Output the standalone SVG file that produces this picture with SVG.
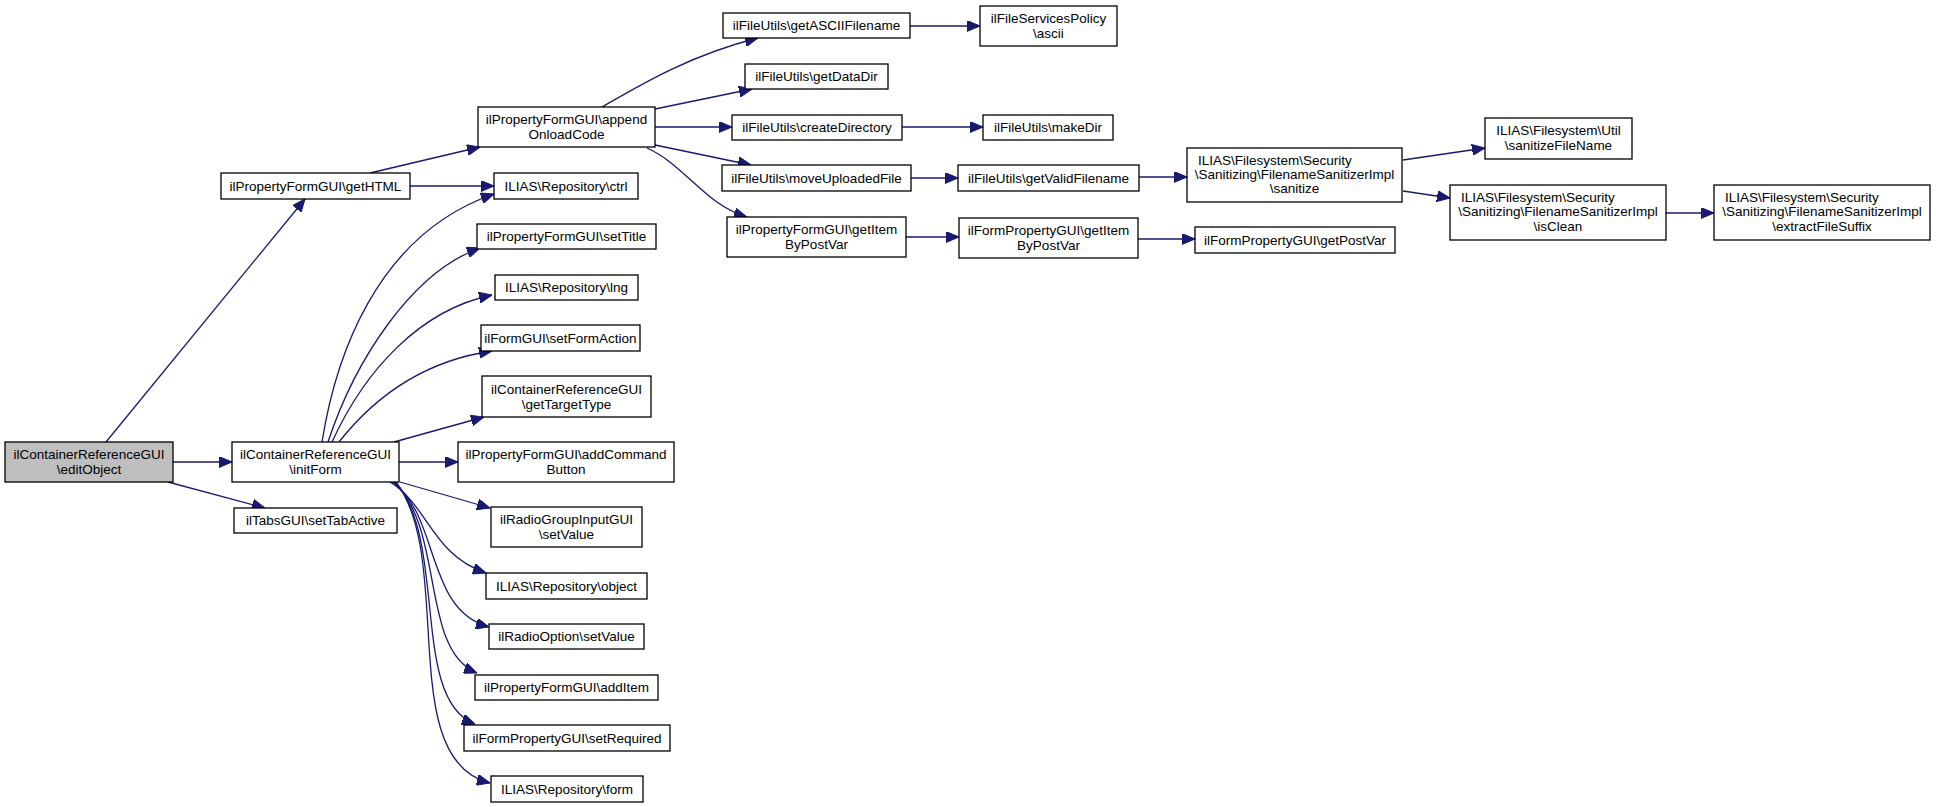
<svg xmlns="http://www.w3.org/2000/svg" width="1936" height="807" viewBox="0 0 1936 807">
<defs>
<marker id="ah" viewBox="0 0 13 11" refX="13" refY="5.5" markerWidth="13" markerHeight="11" markerUnits="userSpaceOnUse" orient="auto">
<path d="M0,0 L13,5.5 L0,11 z" fill="#191970" stroke="#191970" stroke-width="1"/>
</marker>
<style>
.n rect{fill:#fff;stroke:#000;stroke-width:1.3}
.n.cur rect{fill:#bfbfbf}
.n text{font-family:"Liberation Sans",Arial,sans-serif;font-size:13.5px;fill:#000;text-anchor:middle}
.n text.l{text-anchor:start}
#edges path{fill:none;stroke:#191970;stroke-width:1.3;marker-end:url(#ah)}
</style>
</defs>
<rect width="1936" height="807" fill="#fff"/>
<g id="edges">
<path d="M106,442 L305,199"/>
<path d="M173,462 L232,462"/>
<path d="M168,482 L265,508"/>
<path d="M370,173 L480,147"/>
<path d="M410,186 L494,186"/>
<path d="M322,442 C335,360 375,235 494,194"/>
<path d="M328,442 C355,360 412,272 480,248"/>
<path d="M332,442 C365,370 420,310 492,295"/>
<path d="M339,442 C380,390 430,360 492,351"/>
<path d="M394,442 L484,417"/>
<path d="M399,462 L458,462"/>
<path d="M400,482 L490,508"/>
<path d="M390,482 C428,505 432,555 486,573"/>
<path d="M392,482 C440,515 425,610 489,627"/>
<path d="M394,482 C445,530 420,650 477,673"/>
<path d="M395,482 C448,540 410,700 475,724"/>
<path d="M396,482 C455,560 395,760 490,783"/>
<path d="M602,107 C640,85 690,55 758,38"/>
<path d="M655,109 L752,89"/>
<path d="M655,127 L732,127"/>
<path d="M655,145 L751,165"/>
<path d="M647,148 C685,165 705,205 747,217"/>
<path d="M910,26 L980,26"/>
<path d="M902,127 L983,127"/>
<path d="M911,178 L958,178"/>
<path d="M1139,177 L1187,177"/>
<path d="M906,237 L959,237"/>
<path d="M1138,239 L1195,239"/>
<path d="M1403,160 L1485,148"/>
<path d="M1403,191 L1450,198"/>
<path d="M1666,213 L1714,213"/>
</g>
<g id="editObject" class="n cur"><rect x="5" y="442" width="168" height="40"/><text x="89" y="459">ilContainerReferenceGUI</text><text x="89" y="474">\editObject</text></g>
<g id="getHTML" class="n"><rect x="221" y="173" width="189" height="26"/><text x="315.5" y="190.5">ilPropertyFormGUI\getHTML</text></g>
<g id="initForm" class="n"><rect x="232" y="442" width="167" height="40"/><text x="315.5" y="459">ilContainerReferenceGUI</text><text x="315.5" y="474">\initForm</text></g>
<g id="setTabActive" class="n"><rect x="234" y="508" width="163" height="25"/><text x="315.5" y="525">ilTabsGUI\setTabActive</text></g>
<g id="appendOnloadCode" class="n"><rect x="478" y="107" width="177" height="40"/><text x="566.5" y="124">ilPropertyFormGUI\append</text><text x="566.5" y="139">OnloadCode</text></g>
<g id="ctrl" class="n"><rect x="494" y="173" width="144" height="26"/><text x="566" y="190.5">ILIAS\Repository\ctrl</text></g>
<g id="setTitle" class="n"><rect x="477" y="224" width="179" height="25"/><text x="566.5" y="241">ilPropertyFormGUI\setTitle</text></g>
<g id="lng" class="n"><rect x="495" y="275" width="143" height="25"/><text x="566.5" y="292">ILIAS\Repository\lng</text></g>
<g id="setFormAction" class="n"><rect x="481" y="325" width="159" height="26"/><text x="560.5" y="342.5">ilFormGUI\setFormAction</text></g>
<g id="getTargetType" class="n"><rect x="482" y="376" width="169" height="41"/><text x="566.5" y="393.5">ilContainerReferenceGUI</text><text x="566.5" y="408.5">\getTargetType</text></g>
<g id="addCommandButton" class="n"><rect x="458" y="442" width="216" height="40"/><text x="566" y="459">ilPropertyFormGUI\addCommand</text><text x="566" y="474">Button</text></g>
<g id="radioGroupSetValue" class="n"><rect x="491" y="507" width="151" height="40"/><text x="566.5" y="524">ilRadioGroupInputGUI</text><text x="566.5" y="539">\setValue</text></g>
<g id="object" class="n"><rect x="486" y="573" width="161" height="26"/><text x="566.5" y="590.5">ILIAS\Repository\object</text></g>
<g id="radioOptionSetValue" class="n"><rect x="489" y="624" width="155" height="25"/><text x="566.5" y="641">ilRadioOption\setValue</text></g>
<g id="addItem" class="n"><rect x="475" y="675" width="183" height="25"/><text x="566.5" y="692">ilPropertyFormGUI\addItem</text></g>
<g id="setRequired" class="n"><rect x="464" y="725" width="206" height="26"/><text x="567" y="742.5">ilFormPropertyGUI\setRequired</text></g>
<g id="form" class="n"><rect x="491" y="776" width="152" height="26"/><text x="567" y="793.5">ILIAS\Repository\form</text></g>
<g id="getASCIIFilename" class="n"><rect x="723" y="13" width="187" height="25"/><text x="816.5" y="30">ilFileUtils\getASCIIFilename</text></g>
<g id="ascii" class="n"><rect x="980" y="6" width="137" height="40"/><text x="1048.5" y="23">ilFileServicesPolicy</text><text x="1048.5" y="38">\ascii</text></g>
<g id="getDataDir" class="n"><rect x="745" y="64" width="143" height="25"/><text x="816.5" y="81">ilFileUtils\getDataDir</text></g>
<g id="createDirectory" class="n"><rect x="732" y="115" width="170" height="25"/><text x="817" y="132">ilFileUtils\createDirectory</text></g>
<g id="makeDir" class="n"><rect x="983" y="115" width="130" height="25"/><text x="1048" y="132">ilFileUtils\makeDir</text></g>
<g id="moveUploadedFile" class="n"><rect x="722" y="165" width="189" height="26"/><text x="816.5" y="182.5">ilFileUtils\moveUploadedFile</text></g>
<g id="getValidFilename" class="n"><rect x="958" y="165" width="181" height="26"/><text x="1048.5" y="182.5">ilFileUtils\getValidFilename</text></g>
<g id="pfGetItemByPostVar" class="n"><rect x="727" y="217" width="179" height="40"/><text x="816.5" y="234">ilPropertyFormGUI\getItem</text><text x="816.5" y="249">ByPostVar</text></g>
<g id="fpGetItemByPostVar" class="n"><rect x="959" y="218" width="179" height="40"/><text x="1048.5" y="235">ilFormPropertyGUI\getItem</text><text x="1048.5" y="250">ByPostVar</text></g>
<g id="sanitize" class="n"><rect x="1187" y="148" width="215" height="54"/><text class="l" x="1198" y="164.5">ILIAS\Filesystem\Security</text><text x="1294.5" y="178.8">\Sanitizing\FilenameSanitizerImpl</text><text x="1294.5" y="193.1">\sanitize</text></g>
<g id="getPostVar" class="n"><rect x="1195" y="227" width="200" height="26"/><text x="1295" y="244.5">ilFormPropertyGUI\getPostVar</text></g>
<g id="sanitizeFileName" class="n"><rect x="1485" y="118" width="147" height="41"/><text x="1558.5" y="135">ILIAS\Filesystem\Util</text><text x="1558.5" y="150">\sanitizeFileName</text></g>
<g id="isClean" class="n"><rect x="1450" y="185" width="216" height="55"/><text class="l" x="1461" y="202">ILIAS\Filesystem\Security</text><text x="1558" y="216.3">\Sanitizing\FilenameSanitizerImpl</text><text x="1558" y="230.6">\isClean</text></g>
<g id="extractFileSuffix" class="n"><rect x="1714" y="185" width="216" height="55"/><text class="l" x="1725" y="202">ILIAS\Filesystem\Security</text><text x="1822" y="216.3">\Sanitizing\FilenameSanitizerImpl</text><text x="1822" y="230.6">\extractFileSuffix</text></g>
</svg>
